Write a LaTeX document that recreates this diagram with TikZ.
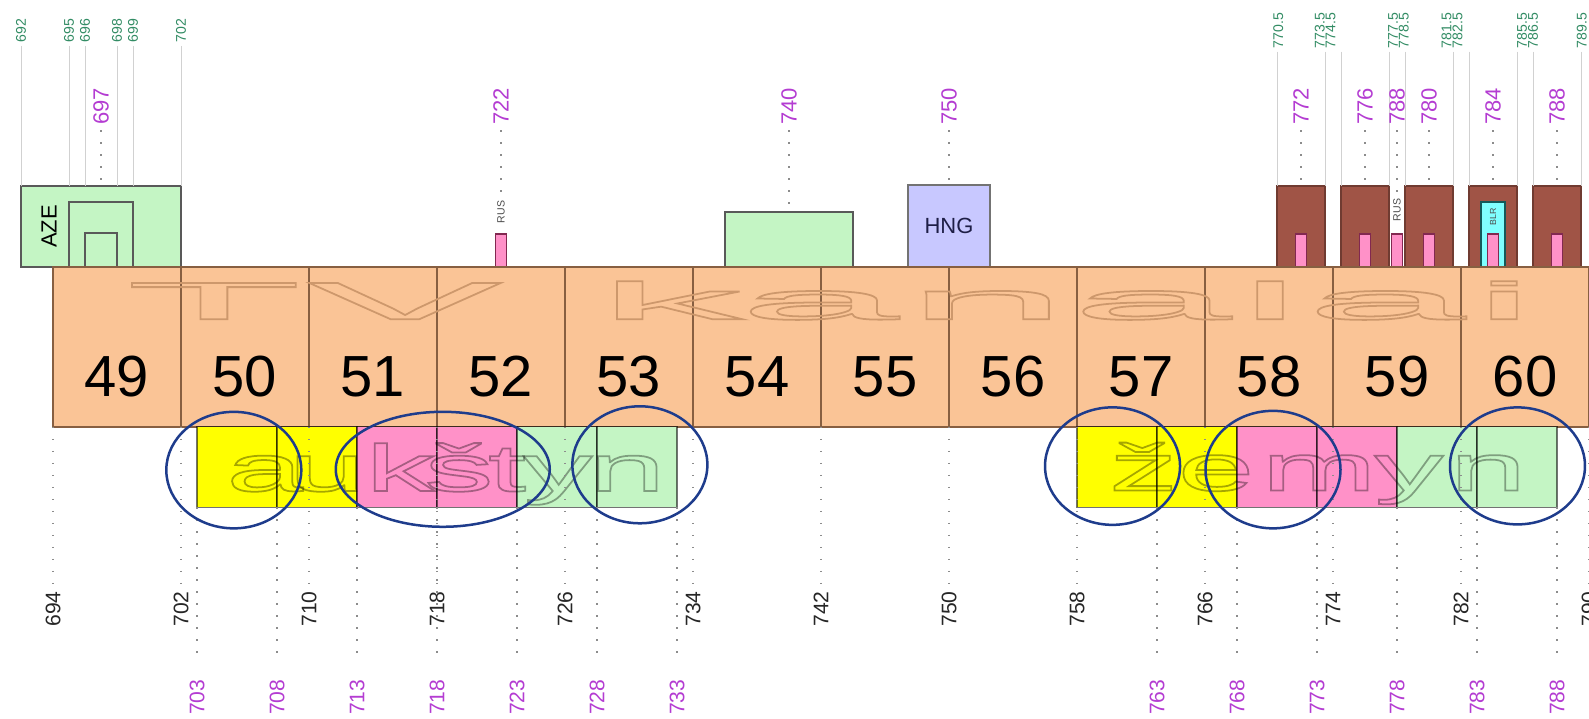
\documentclass[tikz,border=0pt]{standalone}
\usepackage{fontspec}
\setmainfont{Liberation Sans}
\newfontfamily\widefont[FakeStretch=5.5]{Liberation Sans}
\newfontfamily\stripfont[FakeStretch=2.1]{Liberation Sans}
\usetikzlibrary{shapes.geometric}

\definecolor{chanfill}{RGB}{250,196,150}
\definecolor{chanedge}{RGB}{135,95,65}
\definecolor{yfill}{RGB}{255,255,0}
\definecolor{pfill}{RGB}{255,145,200}
\definecolor{pinkedge}{RGB}{130,40,80}
\definecolor{gfill}{RGB}{196,245,196}
\definecolor{lavfill}{RGB}{200,200,255}
\definecolor{hngtext}{RGB}{30,30,70}
\definecolor{brownfill}{RGB}{160,84,70}
\definecolor{cyanfill}{RGB}{128,255,255}
\definecolor{cyanedge}{RGB}{20,90,90}
\definecolor{ringblue}{RGB}{30,60,140}
\definecolor{maglab}{RGB}{180,60,210}
\definecolor{grnlab}{RGB}{50,140,100}
\definecolor{tanline}{RGB}{205,152,108}

\begin{document}
\begin{tikzpicture}[x=0.32cm,y=-0.02cm,shift={(-690.6875,0)},
  every node/.style={inner sep=0pt,outer sep=0pt},
  chanbox/.style={draw=chanedge,fill=chanfill,line width=0.03cm,minimum width=2.56cm,minimum height=3.194cm},
  channo/.style={font=\fontsize{33}{33}\selectfont,anchor=base},
  half/.style={draw=black,draw opacity=0.55,line width=0.025cm,minimum width=1.6cm,minimum height=1.612cm},
  topbox/.style={draw=black!65,line width=0.025cm},
  brownbox/.style={fill=brownfill,draw=brownfill!70!black,line width=0.025cm,minimum width=0.96cm,minimum height=1.62cm},
  pinkbar/.style={fill=pfill,draw=pinkedge,line width=0.025cm,minimum width=0.23cm,minimum height=0.66cm},
  blab/.style={rotate=90,font=\fontsize{12}{12}\selectfont,text=black!85,inner sep=3pt},
  mlab/.style={rotate=90,font=\fontsize{12}{12}\selectfont,text=maglab,inner sep=3pt},
  tlab/.style={mlab,font=\fontsize{12.5}{12.5}\selectfont},
  glab/.style={rotate=90,font=\fontsize{8}{8}\selectfont,text=grnlab,inner sep=2pt},
  tiny/.style={rotate=90,text=black!70},
  dotln/.style={draw=black!45,line width=0.03cm,dash pattern=on 0.03cm off 0.21cm},
  gline/.style={draw=black!18,line width=0.02cm},
  ring/.style={ellipse,draw=ringblue,line width=0.05cm},
  stroked/.style={execute at begin node={\special{pdf:literal direct 1 Tr 1 w}},
                  execute at end node={\special{pdf:literal direct 0 Tr}}},
  bigout/.style={stroked,anchor=base,text=tanline,font=\widefont\fontsize{30}{30}\selectfont},
  stripout/.style={stroked,anchor=base,text=black,font=\stripfont\fontsize{37.5}{37.5}\selectfont},
]
\useasboundingbox (690.6875,0) rectangle (790,718);
\fill[white] (690.6875,0) rectangle (790,718);

% allocations above the channel band
\node[topbox,fill=gfill,minimum width=3.2cm,minimum height=1.62cm] (aze) at (697,226.5) {};
\node[topbox,fill=gfill,minimum width=1.28cm,minimum height=1.3cm] (azeA) at (697,234.5) {};
\node[topbox,fill=gfill,minimum width=0.64cm,minimum height=0.68cm] (azeB) at (697,250) {};
\node[rotate=90,font=\fontsize{12.5}{12.5}\selectfont] (azetxt) at (693.76,226.5) {AZE};
\node[topbox,fill=gfill,minimum width=2.56cm,minimum height=1.1cm] (b740) at (740,239.5) {};
\node[topbox,fill=lavfill,draw=black!55,minimum width=1.64cm,minimum height=1.64cm,
      font=\fontsize{12.5}{12.5}\selectfont,text=hngtext] (hng) at (750,226) {HNG};
\foreach \c in {772,776,780,784,788}
  \node[brownbox] (br\c) at (\c,226.5) {};
\node[fill=cyanfill,draw=cyanedge,line width=0.025cm,minimum width=0.48cm,minimum height=1.3cm] (blr) at (784,234.5) {};
\node[tiny,font=\fontsize{5}{5}\selectfont] (blrtxt) at (784,217) {BLR};
\foreach \c in {722,772,776,778,780,784,788}
  \node[pinkbar] (pk\c) at (\c,250.5) {};
\node[tiny,font=\fontsize{6}{6}\selectfont] (rusL) at (722,212) {RUS};
\node[tiny,font=\fontsize{6}{6}\selectfont] (rusR) at (778,210) {RUS};

% frequency ticks above
\foreach \x/\lx/\t [count=\i] in {692/692/692,695/695/695,696/696/696,698/698/698,699/699/699,702/702/702,
    770.5/770.58/770.5,773.5/773.17/773.5,774.5/773.85/774.5,777.5/777.75/777.5,778.5/778.43/778.5,
    781.5/781.10/781.5,782.5/781.78/782.5,785.5/785.82/785.5,786.5/786.50/786.5,789.5/789.54/789.5} {
  \node[glab] (gl\i) at (\lx,30.5) {\t};
  \draw[gline] (\x,0 |- gl\i.west) -- (\x,0 |- aze.north);
}
\foreach \x/\t/\tgt [count=\i] in {697/697/aze.north,722/722/rusL.east,740/740/b740.north,750/750/hng.north,
    772/772/br772.north,776/776/br776.north,778/788/rusR.east,780/780/br780.north,784/784/br784.north,788/788/br788.north} {
  \node[tlab] (tl\i) at (\x,106.5) {\t};
  \draw[dotln] (tl\i.west) -- (tl\i.west |- \tgt);
}

% TV channel band
\foreach \n [count=\i from 0] in {49,...,60}
  \node[chanbox] (ch\n) at ({698+8*\i},346.85) {};
\begin{scope}
\foreach \x/\l [count=\i] in {704.06/T,716.0/V,732.56/k,741.88/a,752.38/n,762.66/a,770.06/l,777.31/a,784.69/i}
  \node[bigout] (tv\i) at (\x,319.3) {\l};
\end{scope}
\foreach \n [count=\i from 0] in {49,...,60}
  \node[channo] (no\n) at ({698+8*\i},396.7) {\n};

% uplink / downlink strip
\foreach \s/\c in {703/yfill,708/yfill,713/pfill,718/pfill,723/gfill,728/gfill,
                   758/yfill,763/yfill,768/pfill,773/pfill,778/gfill,783/gfill}
  \node[half,fill=\c] (h\s) at ({\s+2.5},467) {};
\begin{scope}[opacity=0.35]
\foreach \x/\l [count=\i] in {707.23/a,711.13/u,715.69/k,719.38/š,722.38/t,725.56/y,729.88/n}
  \node[stripout] (up\i) at (\x,491) {\l};
\foreach \x/\l [count=\i] in {762.16/ž,766.69/e,773.13/m,778.75/y,783.69/n}
  \node[stripout] (dn\i) at (\x,490.5) {\l};
\end{scope}

% channel edges below
\foreach \fr in {694,702,...,790} {
  \node[blab] (bl\fr) at (\fr,609) {\fr};
  \draw[dotln,shorten >=0.06cm] (bl\fr.east |- ch49.south) -- (bl\fr.east);
}
\foreach \fr in {703,708,713,718,723,728,733,763,768,773,778,783,788} {
  \node[mlab] (ml\fr) at (\fr,697) {\fr};
  \draw[dotln,shorten >=0.28cm] (ml\fr.east |- h703.south) -- (ml\fr.east);
}

% highlighted blocks
\node[ring,minimum width=2.7cm,minimum height=2.33cm] (r1) at (705.30,470) {};
\node[ring,minimum width=4.28cm,minimum height=2.3cm] (r2) at (718.36,469.2) {};
\node[ring,minimum width=2.7cm,minimum height=2.34cm] (r3) at (730.68,464.7) {};
\node[ring,minimum width=2.7cm,minimum height=2.35cm] (r4) at (760.22,466) {};
\node[ring,minimum width=2.7cm,minimum height=2.35cm] (r5) at (770.25,469.5) {};
\node[ring,minimum width=2.7cm,minimum height=2.34cm] (r6) at (785.53,465.8) {};
\end{tikzpicture}
\end{document}
